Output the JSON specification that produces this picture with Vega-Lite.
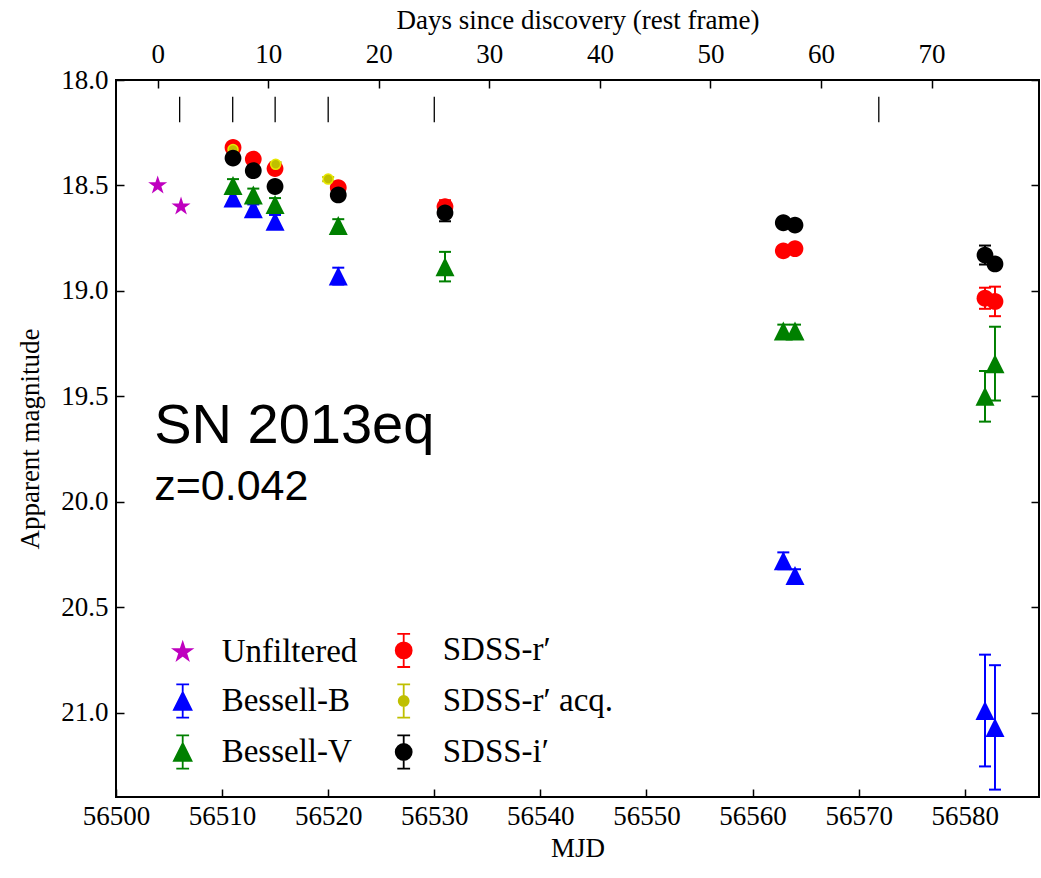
{
  "$schema": "https://vega.github.io/schema/vega-lite/v6.json",
  "width": 923,
  "height": 717,
  "autosize": {"type": "none"},
  "padding": {"left": 116, "top": 80, "right": 2, "bottom": 81},
  "background": "white",
  "config": {
    "view": {"stroke": "black", "strokeWidth": 2},
    "axis": {
      "grid": false, "domain": false, "tickColor": "black", "tickWidth": 1.5, "tickSize": -8,
      "labelColor": "black", "labelFont": "Liberation Serif", "labelFontSize": 27,
      "labelFlush": false, "labelOverlap": false,
      "titleFont": "Liberation Serif", "titleFontSize": 27, "titleFontWeight": "normal", "titleColor": "black"
    },
    "legend": {"labelFont": "Liberation Serif", "labelFontSize": 33, "labelColor": "black", "labelLimit": 400, "symbolStrokeWidth": 1.8}
  },
  "datasets": {
    "phot": [
      {"band": "Unfiltered", "mjd": 56503.93, "mag": 18.50, "err": 0},
      {"band": "Unfiltered", "mjd": 56506.13, "mag": 18.60, "err": 0},
      {"band": "Bessell-B", "mjd": 56511.03, "mag": 18.56, "err": 0.02},
      {"band": "Bessell-B", "mjd": 56512.94, "mag": 18.61, "err": 0.02},
      {"band": "Bessell-B", "mjd": 56514.99, "mag": 18.67, "err": 0.03},
      {"band": "Bessell-B", "mjd": 56520.95, "mag": 18.93, "err": 0.04},
      {"band": "Bessell-B", "mjd": 56562.9, "mag": 20.28, "err": 0.04},
      {"band": "Bessell-B", "mjd": 56564.0, "mag": 20.35, "err": 0.03},
      {"band": "Bessell-B", "mjd": 56581.91, "mag": 20.99, "err": 0.265},
      {"band": "Bessell-B", "mjd": 56582.85, "mag": 21.07, "err": 0.295},
      {"band": "Bessell-V", "mjd": 56511.03, "mag": 18.50, "err": 0.03},
      {"band": "Bessell-V", "mjd": 56512.94, "mag": 18.545, "err": 0.03},
      {"band": "Bessell-V", "mjd": 56514.99, "mag": 18.59, "err": 0.03},
      {"band": "Bessell-V", "mjd": 56520.95, "mag": 18.69, "err": 0.03},
      {"band": "Bessell-V", "mjd": 56531.01, "mag": 18.885, "err": 0.07},
      {"band": "Bessell-V", "mjd": 56562.9, "mag": 19.19, "err": 0.03},
      {"band": "Bessell-V", "mjd": 56564.0, "mag": 19.19, "err": 0.03},
      {"band": "Bessell-V", "mjd": 56581.91, "mag": 19.50, "err": 0.12},
      {"band": "Bessell-V", "mjd": 56582.85, "mag": 19.345, "err": 0.175},
      {"band": "SDSS-r′", "mjd": 56511.03, "mag": 18.32, "err": 0.02},
      {"band": "SDSS-r′", "mjd": 56512.94, "mag": 18.375, "err": 0.02},
      {"band": "SDSS-r′", "mjd": 56514.99, "mag": 18.42, "err": 0.02},
      {"band": "SDSS-r′", "mjd": 56520.95, "mag": 18.51, "err": 0.02},
      {"band": "SDSS-r′", "mjd": 56531.01, "mag": 18.60, "err": 0.03},
      {"band": "SDSS-r′", "mjd": 56562.9, "mag": 18.81, "err": 0.02},
      {"band": "SDSS-r′", "mjd": 56564.0, "mag": 18.80, "err": 0.02},
      {"band": "SDSS-r′", "mjd": 56581.91, "mag": 19.035, "err": 0.05},
      {"band": "SDSS-r′", "mjd": 56582.85, "mag": 19.05, "err": 0.07},
      {"band": "SDSS-r′ acq.", "mjd": 56511.03, "mag": 18.33, "err": 0.01},
      {"band": "SDSS-r′ acq.", "mjd": 56515.05, "mag": 18.40, "err": 0.01},
      {"band": "SDSS-r′ acq.", "mjd": 56520.0, "mag": 18.47, "err": 0.01},
      {"band": "SDSS-i′", "mjd": 56511.03, "mag": 18.37, "err": 0.02},
      {"band": "SDSS-i′", "mjd": 56512.94, "mag": 18.43, "err": 0.02},
      {"band": "SDSS-i′", "mjd": 56514.99, "mag": 18.505, "err": 0.02},
      {"band": "SDSS-i′", "mjd": 56520.95, "mag": 18.545, "err": 0.02},
      {"band": "SDSS-i′", "mjd": 56531.01, "mag": 18.63, "err": 0.04},
      {"band": "SDSS-i′", "mjd": 56562.9, "mag": 18.677, "err": 0.02},
      {"band": "SDSS-i′", "mjd": 56564.0, "mag": 18.688, "err": 0.02},
      {"band": "SDSS-i′", "mjd": 56581.91, "mag": 18.83, "err": 0.045},
      {"band": "SDSS-i′", "mjd": 56582.85, "mag": 18.872, "err": 0.02}
    ]
  },
  "layer": [
    {
      "encoding": {
        "x": {"type": "quantitative",
          "scale": {"domain": [56500, 56587], "nice": false, "zero": false},
          "axis": {"orient": "bottom", "values": [56500, 56510, 56520, 56530, 56540, 56550, 56560, 56570, 56580], "format": "d", "title": "MJD", "labelPadding": 14, "titlePadding": 6}},
        "y": {"type": "quantitative",
          "scale": {"domain": [18.0, 21.4], "reverse": true, "nice": false, "zero": false},
          "axis": {"orient": "left", "values": [18.0, 18.5, 19.0, 19.5, 20.0, 20.5, 21.0], "format": ".1f", "title": "Apparent magnitude", "labelPadding": 16, "titlePadding": 16}}
      },
      "layer": [
        {
          "data": {"values": [{"mjd": 56506.0}, {"mjd": 56511.0}, {"mjd": 56515.0}, {"mjd": 56520.0}, {"mjd": 56530.0}, {"mjd": 56571.9}]},
          "mark": {"type": "rule", "color": "black", "strokeWidth": 1.3},
          "encoding": {
            "x": {"field": "mjd", "type": "quantitative"},
            "y": {"datum": 18.08, "type": "quantitative"},
            "y2": {"datum": 18.2}
          }
        },
        {
          "data": {"name": "phot"},
          "transform": [{"filter": "datum.band === 'Bessell-B'"}],
          "mark": {"type": "errorbar", "color": "#0000ff", "ticks": {"size": 12, "thickness": 2, "opacity": 1, "color": "#0000ff"}, "rule": {"strokeWidth": 2, "opacity": 1, "color": "#0000ff"}},
          "encoding": {"x": {"field": "mjd", "type": "quantitative"}, "y": {"field": "mag", "type": "quantitative"}, "yError": {"field": "err"}}
        },
        {
          "data": {"name": "phot"},
          "transform": [{"filter": "datum.band === 'Bessell-V'"}],
          "mark": {"type": "errorbar", "color": "#008000", "ticks": {"size": 12, "thickness": 2, "opacity": 1, "color": "#008000"}, "rule": {"strokeWidth": 2, "opacity": 1, "color": "#008000"}},
          "encoding": {"x": {"field": "mjd", "type": "quantitative"}, "y": {"field": "mag", "type": "quantitative"}, "yError": {"field": "err"}}
        },
        {
          "data": {"name": "phot"},
          "transform": [{"filter": "datum.band === 'SDSS-r′'"}],
          "mark": {"type": "errorbar", "color": "#ff0000", "ticks": {"size": 12, "thickness": 2, "opacity": 1, "color": "#ff0000"}, "rule": {"strokeWidth": 2, "opacity": 1, "color": "#ff0000"}},
          "encoding": {"x": {"field": "mjd", "type": "quantitative"}, "y": {"field": "mag", "type": "quantitative"}, "yError": {"field": "err"}}
        },
        {
          "data": {"name": "phot"},
          "transform": [{"filter": "datum.band === 'SDSS-r′ acq.'"}],
          "mark": {"type": "errorbar", "color": "#bfbf00", "ticks": {"size": 12, "thickness": 2, "opacity": 1, "color": "#bfbf00"}, "rule": {"strokeWidth": 2, "opacity": 1, "color": "#bfbf00"}},
          "encoding": {"x": {"field": "mjd", "type": "quantitative"}, "y": {"field": "mag", "type": "quantitative"}, "yError": {"field": "err"}}
        },
        {
          "data": {"name": "phot"},
          "transform": [{"filter": "datum.band === 'SDSS-i′'"}],
          "mark": {"type": "errorbar", "color": "#000000", "ticks": {"size": 12, "thickness": 2, "opacity": 1, "color": "#000000"}, "rule": {"strokeWidth": 2, "opacity": 1, "color": "#000000"}},
          "encoding": {"x": {"field": "mjd", "type": "quantitative"}, "y": {"field": "mag", "type": "quantitative"}, "yError": {"field": "err"}}
        },
        {
          "data": {"name": "phot"},
          "transform": [{"filter": "datum.band === 'Unfiltered'"}],
          "mark": {"type": "point", "filled": true, "opacity": 1, "strokeWidth": 0, "size": 400, "color": "#bf00bf",
            "shape": "M0,-1L0.2245,-0.309L0.9511,-0.309L0.3633,0.118L0.5878,0.809L0,0.382L-0.5878,0.809L-0.3633,0.118L-0.9511,-0.309L-0.2245,-0.309Z"},
          "encoding": {"x": {"field": "mjd", "type": "quantitative"}, "y": {"field": "mag", "type": "quantitative"}}
        },
        {
          "data": {"name": "phot"},
          "transform": [{"filter": "datum.band === 'Bessell-B'"}],
          "mark": {"type": "point", "filled": true, "opacity": 1, "strokeWidth": 0, "size": 400, "color": "#0000ff",
            "shape": "M0,-0.95L0.95,0.95L-0.95,0.95Z"},
          "encoding": {"x": {"field": "mjd", "type": "quantitative"}, "y": {"field": "mag", "type": "quantitative"}}
        },
        {
          "data": {"name": "phot"},
          "transform": [{"filter": "datum.band === 'Bessell-V'"}],
          "mark": {"type": "point", "filled": true, "opacity": 1, "strokeWidth": 0, "size": 400, "color": "#008000",
            "shape": "M0,-0.95L0.95,0.95L-0.95,0.95Z"},
          "encoding": {"x": {"field": "mjd", "type": "quantitative"}, "y": {"field": "mag", "type": "quantitative"}}
        },
        {
          "data": {"name": "phot"},
          "transform": [{"filter": "datum.band === 'SDSS-r′'"}],
          "mark": {"type": "point", "filled": true, "opacity": 1, "strokeWidth": 0, "size": 400, "color": "#ff0000",
            "shape": "M-0.84,0A0.84,0.84 0 1,0 0.84,0A0.84,0.84 0 1,0 -0.84,0Z"},
          "encoding": {"x": {"field": "mjd", "type": "quantitative"}, "y": {"field": "mag", "type": "quantitative"}}
        },
        {
          "data": {"name": "phot"},
          "transform": [{"filter": "datum.band === 'SDSS-r′ acq.'"}],
          "mark": {"type": "point", "filled": true, "opacity": 1, "size": 400, "fill": "#bfbf00", "stroke": "#e8e800", "strokeWidth": 1.5,
            "shape": "M-0.5,0A0.5,0.5 0 1,0 0.5,0A0.5,0.5 0 1,0 -0.5,0Z"},
          "encoding": {"x": {"field": "mjd", "type": "quantitative"}, "y": {"field": "mag", "type": "quantitative"}}
        },
        {
          "data": {"name": "phot"},
          "transform": [{"filter": "datum.band === 'SDSS-i′'"}],
          "mark": {"type": "point", "filled": true, "opacity": 1, "strokeWidth": 0, "size": 400, "color": "#000000",
            "shape": "M-0.84,0A0.84,0.84 0 1,0 0.84,0A0.84,0.84 0 1,0 -0.84,0Z"},
          "encoding": {"x": {"field": "mjd", "type": "quantitative"}, "y": {"field": "mag", "type": "quantitative"}}
        },
        {
          "data": {"name": "phot"},
          "transform": [{"filter": "false"}],
          "mark": {"type": "point", "filled": true, "opacity": 1, "strokeWidth": 1.8},
          "encoding": {
            "x": {"field": "mjd", "type": "quantitative"},
            "y": {"field": "mag", "type": "quantitative"},
            "color": {"field": "band", "type": "nominal",
              "scale": {"domain": ["Unfiltered", "Bessell-B", "Bessell-V", "SDSS-r′", "SDSS-r′ acq.", "SDSS-i′"], "range": ["#bf00bf", "#0000ff", "#008000", "#ff0000", "#bfbf00", "#000000"]},
              "legend": {"orient": "none", "legendX": 45.7, "legendY": 549, "columns": 2, "symbolSize": 1600, "labelOffset": 18, "rowPadding": 9, "columnPadding": 25, "padding": 0, "title": null}},
            "stroke": {"field": "band", "type": "nominal",
              "scale": {"domain": ["Unfiltered", "Bessell-B", "Bessell-V", "SDSS-r′", "SDSS-r′ acq.", "SDSS-i′"], "range": ["#bf00bf", "#0000ff", "#008000", "#ff0000", "#bfbf00", "#000000"]},
              "legend": {"orient": "none", "legendX": 45.7, "legendY": 549, "columns": 2, "symbolSize": 1600, "labelOffset": 18, "rowPadding": 9, "columnPadding": 25, "padding": 0, "title": null}},
            "shape": {"field": "band", "type": "nominal",
              "scale": {"domain": ["Unfiltered", "Bessell-B", "Bessell-V", "SDSS-r′", "SDSS-r′ acq.", "SDSS-i′"],
                "range": [
                  "M0,-0.47L0.1055,-0.1453L0.447,-0.1453L0.1708,0.0555L0.2763,0.3802L0,0.1796L-0.2763,0.3802L-0.1708,0.0555L-0.447,-0.1453L-0.1055,-0.1453Z",
                  "M0,-0.44L0.44,0.44L-0.44,0.44Z M0,-0.83L0,0.83 M-0.32,-0.83L0.32,-0.83 M-0.32,0.83L0.32,0.83",
                  "M0,-0.44L0.44,0.44L-0.44,0.44Z M0,-0.83L0,0.83 M-0.32,-0.83L0.32,-0.83 M-0.32,0.83L0.32,0.83",
                  "M-0.4,0A0.4,0.4 0 1,0 0.4,0A0.4,0.4 0 1,0 -0.4,0Z M0,-0.83L0,0.83 M-0.32,-0.83L0.32,-0.83 M-0.32,0.83L0.32,0.83",
                  "M-0.25,0A0.25,0.25 0 1,0 0.25,0A0.25,0.25 0 1,0 -0.25,0Z M0,-0.83L0,0.83 M-0.32,-0.83L0.32,-0.83 M-0.32,0.83L0.32,0.83",
                  "M-0.4,0A0.4,0.4 0 1,0 0.4,0A0.4,0.4 0 1,0 -0.4,0Z M0,-0.83L0,0.83 M-0.32,-0.83L0.32,-0.83 M-0.32,0.83L0.32,0.83"]},
              "legend": {"orient": "none", "legendX": 45.7, "legendY": 549, "columns": 2, "symbolSize": 1600, "labelOffset": 18, "rowPadding": 9, "columnPadding": 25, "padding": 0, "title": null}}
          }
        },
        {
          "data": {"values": [{"label": "SN 2013eq"}]},
          "mark": {"type": "text", "font": "Liberation Sans", "fontSize": 56, "align": "left", "baseline": "alphabetic", "color": "black"},
          "encoding": {
            "x": {"datum": 56503.6, "type": "quantitative"},
            "y": {"datum": 19.72, "type": "quantitative"},
            "text": {"field": "label"}
          }
        },
        {
          "data": {"values": [{"label": "z=0.042"}]},
          "mark": {"type": "text", "font": "Liberation Sans", "fontSize": 43, "align": "left", "baseline": "alphabetic", "color": "black"},
          "encoding": {
            "x": {"datum": 56503.6, "type": "quantitative"},
            "y": {"datum": 19.99, "type": "quantitative"},
            "text": {"field": "label"}
          }
        }
      ]
    },
    {
      "data": {"values": [{"day": 0, "m": 18.0}, {"day": 70, "m": 21.0}]},
      "mark": {"type": "point", "opacity": 0},
      "encoding": {
        "x": {"field": "day", "type": "quantitative",
          "scale": {"domain": [-3.772, 79.722], "nice": false, "zero": false},
          "axis": {"orient": "top", "values": [0, 10, 20, 30, 40, 50, 60, 70], "format": "d", "title": "Days since discovery (rest frame)", "labelPadding": 20, "titlePadding": 6}},
        "y": {"field": "m", "type": "quantitative",
          "scale": {"domain": [18.0, 21.4], "reverse": true, "nice": false, "zero": false},
          "axis": {"orient": "right", "values": [18.0, 18.5, 19.0, 19.5, 20.0, 20.5, 21.0], "labels": false, "title": null}}
      }
    }
  ],
  "resolve": {"scale": {"x": "independent", "y": "independent"}}
}
